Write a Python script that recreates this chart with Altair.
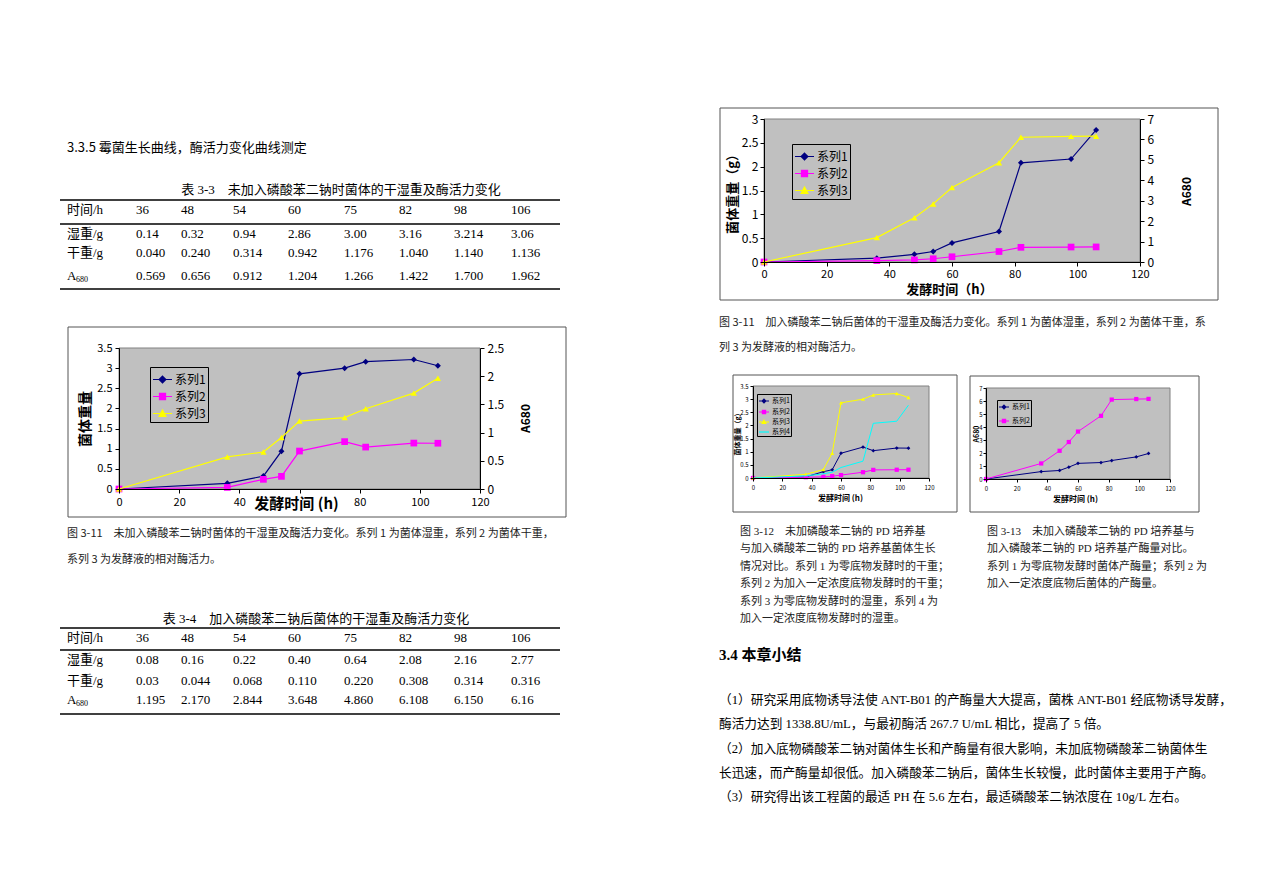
import altair as alt
import pandas as pd

# ---------------- data (read from the page) ----------------
HOURS = [0, 36, 48, 54, 60, 75, 82, 98, 106]
TIME_LABELS = ["36", "48", "54", "60", "75", "82", "98", "106"]

WET_NO = [0, 0.14, 0.32, 0.94, 2.86, 3.00, 3.16, 3.214, 3.06]
DRY_NO = [0, 0.040, 0.240, 0.314, 0.942, 1.176, 1.040, 1.140, 1.136]
ACT_NO = [0, 0.569, 0.656, 0.912, 1.204, 1.266, 1.422, 1.700, 1.962]
WET_ADD = [0, 0.08, 0.16, 0.22, 0.40, 0.64, 2.08, 2.16, 2.77]
DRY_ADD = [0, 0.03, 0.044, 0.068, 0.110, 0.220, 0.308, 0.314, 0.316]
ACT_ADD = [0, 1.195, 2.170, 2.844, 3.648, 4.860, 6.108, 6.150, 6.16]

T33_WET = ["0.14", "0.32", "0.94", "2.86", "3.00", "3.16", "3.214", "3.06"]
T33_DRY = ["0.040", "0.240", "0.314", "0.942", "1.176", "1.040", "1.140", "1.136"]
T33_ACT = ["0.569", "0.656", "0.912", "1.204", "1.266", "1.422", "1.700", "1.962"]
T34_WET = ["0.08", "0.16", "0.22", "0.40", "0.64", "2.08", "2.16", "2.77"]
T34_DRY = ["0.03", "0.044", "0.068", "0.110", "0.220", "0.308", "0.314", "0.316"]
T34_ACT = ["1.195", "2.170", "2.844", "3.648", "4.860", "6.108", "6.150", "6.16"]
ROW_LABELS = ["时间/h", "湿重/g", "干重/g", "A"]
SUB_LABEL = "680"

SERIES = ["系列1", "系列2", "系列3", "系列4"]
X_DOMAIN = [0, 120]
X_TICKS = [0, 20, 40, 60, 80, 100, 120]
Y_TICKS_35 = [0, 0.5, 1, 1.5, 2, 2.5, 3, 3.5]
Y_TICKS_30 = [0, 0.5, 1, 1.5, 2, 2.5, 3]
Y_TICKS_25 = [0, 0.5, 1, 1.5, 2, 2.5]
Y_TICKS_7 = [0, 1, 2, 3, 4, 5, 6, 7]

HEADING = "3.3.5 霉菌生长曲线，酶活力变化曲线测定"
TITLE_33 = "表 3-3　未加入磷酸苯二钠时菌体的干湿重及酶活力变化"
TITLE_34 = "表 3-4　加入磷酸苯二钠后菌体的干湿重及酶活力变化"
CAP_1 = ["图 3-11　未加入磷酸苯二钠时菌体的干湿重及酶活力变化。系列 1 为菌体湿重，系列 2 为菌体干重，",
         "系列 3 为发酵液的相对酶活力。"]
CAP_2 = ["图 3-11　加入磷酸苯二钠后菌体的干湿重及酶活力变化。系列 1 为菌体湿重，系列 2 为菌体干重，系",
         "列 3 为发酵液的相对酶活力。"]
CAP_12 = ["\u00a0图 3-12　未加磷酸苯二钠的 PD 培养基",
          "与加入磷酸苯二钠的 PD 培养基菌体生长",
          "情况对比。系列 1 为零底物发酵时的干重；",
          "系列 2 为加入一定浓度底物发酵时的干重；",
          "系列 3 为零底物发酵时的湿重，系列 4 为",
          "加入一定浓度底物发酵时的湿重。"]
CAP_13 = ["\u00a0图 3-13　未加入磷酸苯二钠的 PD 培养基与",
          "加入磷酸苯二钠的 PD 培养基产酶量对比。",
          "\u00a0系列 1 为零底物发酵时菌体产酶量；系列 2 为",
          "加入一定浓度底物后菌体的产酶量。"]
SEC_TITLE = "3.4 本章小结"
PARA = ["（1）研究采用底物诱导法使 ANT-B01 的产酶量大大提高，菌株 ANT-B01 经底物诱导发酵，",
        "酶活力达到 1338.8U/mL，与最初酶活 267.7 U/mL 相比，提高了 5 倍。",
        "（2）加入底物磷酸苯二钠对菌体生长和产酶量有很大影响，未加底物磷酸苯二钠菌体生",
        "长迅速，而产酶量却很低。加入磷酸苯二钠后，菌体生长较慢，此时菌体主要用于产酶。",
        "（3）研究得出该工程菌的最适 PH 在 5.6 左右，最适磷酸苯二钠浓度在 10g/L 左右。"]

# ---------------- styles / layout ----------------
W, H = 1257, 868
CJK = "Noto Sans CJK SC"
SERIF = "Liberation Serif, Noto Sans CJK SC"
NAVY, MAG, YEL, CYAN = "#000080", "#FF00FF", "#FFFF00", "#00FFFF"
# legend glyphs: a line with a (stroke-filled) marker at its centre
P_DIAMOND = ("M-1,0L1,0M0,-0.36L0.36,0L0,0.36L-0.36,0ZM0,-0.24L0.24,0L0,0.24L-0.24,0Z"
             "M0,-0.12L0.12,0L0,0.12L-0.12,0ZM0,-0.36L0,0.36")
P_SQUARE = ("M-1,0L1,0M-0.32,-0.32L0.32,-0.32L0.32,0.32L-0.32,0.32Z"
            "M-0.2,-0.2L0.2,-0.2L0.2,0.2L-0.2,0.2ZM-0.08,-0.08L0.08,-0.08L0.08,0.08L-0.08,0.08Z"
            "M0,-0.32L0,0.32")
P_TRI = ("M-1,0L1,0M0,-0.36L0.36,0.3L-0.36,0.3ZM0,-0.2L0.2,0.18L-0.2,0.18Z"
         "M0,-0.36L0,0.3")
P_LINE = "M-1,0L1,0"
ONE = pd.DataFrame({"k": [0]})


def axis(**kw):
    base = dict(grid=False, domainColor="black", tickColor="black", labelColor="black",
                titleColor="black", labelFont=CJK, titleFont=CJK, titleFontWeight="bold",
                labelFlush=False, labelOverlap=False, titleAlign="center",
                titleBaseline="middle", zindex=1, domainWidth=1, tickWidth=1)
    base.update(kw)
    return alt.Axis(**base)


def series_layers(vals, color, shape, size, lw, xs, xa, ys, ya):
    df = pd.DataFrame({"h": HOURS, "v": vals})
    enc = dict(x=alt.X("h:Q", scale=xs, axis=xa), y=alt.Y("v:Q", scale=ys, axis=ya))
    out = [alt.Chart(df).mark_line(color=color, strokeWidth=lw).encode(**enc)]
    if shape:
        out.append(alt.Chart(df).mark_point(shape=shape, filled=True, color=color,
                                            size=size, opacity=1).encode(**enc))
    return out


def legend_layer(field, names, colors, paths, lx, ly, fs, ssize, rowpad, pad):
    leg = alt.Legend(title=None, orient="none", legendX=lx, legendY=ly,
                     fillColor="#C0C0C0", strokeColor="#000000", padding=pad,
                     labelFont=CJK, labelFontSize=fs, labelColor="black",
                     symbolSize=ssize, symbolStrokeWidth=1.2, rowPadding=rowpad,
                     labelOffset=2)
    df = pd.DataFrame({field: names})
    return alt.Chart(df).mark_point(opacity=0, filled=False, strokeWidth=1.2).encode(
        shape=alt.Shape(f"{field}:N", scale=alt.Scale(domain=names, range=paths), legend=leg),
        fill=alt.Fill(f"{field}:N", scale=alt.Scale(domain=names, range=colors), legend=leg),
        stroke=alt.Stroke(f"{field}:N", scale=alt.Scale(domain=names, range=colors), legend=leg),
    )


def build_plot(xr, yr, box, ldom, lticks, lax, xax, left, leg, rdom=None, rticks=None,
               rax=None, right=()):
    xs = alt.Scale(domain=X_DOMAIN, range=[xr[0], xr[1]], nice=False, zero=False)
    ys = alt.Scale(domain=ldom, range=[yr[1], yr[0]], nice=False, zero=False)
    xa = axis(orient="bottom", offset=yr[1] - H, values=X_TICKS, **xax)
    ya = axis(orient="left", offset=-xr[0], values=lticks, format=".2~f", titleAngle=270, **lax)
    frame = alt.Chart(ONE).mark_rect(fillOpacity=0, stroke="#555555", strokeWidth=1).encode(
        x=alt.value(box[0]), x2=alt.value(box[1]), y=alt.value(box[2]), y2=alt.value(box[3]))
    bg = alt.Chart(ONE).mark_rect(color="#C0C0C0", stroke="#808080", strokeWidth=1).encode(
        x=alt.X(datum=X_DOMAIN[0], scale=xs, axis=xa), x2=alt.X2(datum=X_DOMAIN[1]),
        y=alt.Y(datum=ldom[0], scale=ys, axis=ya), y2=alt.Y2(datum=ldom[1]))
    layers = [bg]
    for s in left:
        layers += series_layers(*s, xs, xa, ys, ya)
    layers.append(leg)
    left_group = alt.layer(*layers)
    if right:
        rs = alt.Scale(domain=rdom, range=[yr[1], yr[0]], nice=False, zero=False)
        ra = axis(orient="right", offset=xr[1] - W, values=rticks, format=".2~f",
                  titleAngle=270, **rax)
        rl = []
        for s in right:
            rl += series_layers(*s, xs, xa, rs, ra)
        plot = alt.layer(left_group, alt.layer(*rl)).resolve_scale(y="independent")
    else:
        plot = left_group
    return [frame, plot]


def text_lines(lines, x0, y0, y1, size, font, weight="normal", color="black"):
    n = len(lines)
    df = pd.DataFrame({"i": list(range(n)), "t": lines})
    if n == 1:
        y = alt.value(y0)
    else:
        y = alt.Y("i:Q", scale=alt.Scale(domain=[0, n - 1], range=[y0, y1], nice=False,
                                         zero=False), axis=None)
    return alt.Chart(df).mark_text(align="left", baseline="middle", fontSize=size, font=font,
                                   fontWeight=weight, color=color).encode(
        x=alt.value(x0), y=y, text="t:N")


COL_X = [59, 128, 173, 225, 280, 336, 391, 446, 503]


def table(title, tx, ty, wet, dry, act, row_y, rule_y):
    rows = [[ROW_LABELS[0]] + TIME_LABELS, [ROW_LABELS[1]] + wet,
            [ROW_LABELS[2]] + dry, [ROW_LABELS[3]] + act]
    cells = pd.DataFrame([{"r": r, "c": c, "t": t}
                          for r, row in enumerate(rows) for c, t in enumerate(row)])
    xs = alt.Scale(domain=list(range(9)), range=COL_X, nice=False, zero=False)
    ys = alt.Scale(domain=[0, 1, 2, 3], range=row_y, nice=False, zero=False)
    enc = dict(x=alt.X("c:Q", scale=xs, axis=None), y=alt.Y("r:Q", scale=ys, axis=None))
    body = alt.Chart(cells).mark_text(align="left", baseline="middle", fontSize=13,
                                      font=SERIF, color="black").encode(text="t:N", **enc)
    sub = alt.Chart(pd.DataFrame({"r": [3], "c": [0], "t": [SUB_LABEL]})).mark_text(
        align="left", baseline="middle", fontSize=8, font=SERIF, color="black", dx=9, dy=4
    ).encode(text="t:N", **enc)
    ttl = alt.Chart(ONE).mark_text(align="center", baseline="middle", fontSize=13, font=SERIF,
                                   color="black", text=title).encode(
        x=alt.value(tx), y=alt.value(ty))
    rules = [alt.Chart(ONE).mark_rule(color="black", strokeWidth=1.3).encode(
        x=alt.value(52), x2=alt.value(552), y=alt.value(v)) for v in rule_y]
    return alt.layer(body, sub, ttl, *rules)


# ---------------- charts ----------------
c1 = build_plot(
    xr=(111, 472), yr=(340, 481), box=(60, 558, 319, 509),
    ldom=[0, 3.5], lticks=Y_TICKS_35,
    lax=dict(title="菌体重量", titleX=-34, titleY=410.5, titleFontSize=14, labelFontSize=11,
             tickSize=4, labelPadding=3),
    xax=dict(title="发酵时间 (h)", titleX=288, titleY=14, titleFontSize=15, labelFontSize=11,
             tickSize=4, labelPadding=3, labelExpr="datum.value == 60 ? '' : datum.label"),
    left=[(WET_NO, NAVY, "diamond", 36, 1.2), (DRY_NO, MAG, "square", 45, 1.2)],
    leg=legend_layer("s1", SERIES[:3], [NAVY, MAG, YEL], [P_DIAMOND, P_SQUARE, P_TRI],
                     142, 359, 12, 361, -6, 2),
    rdom=[0, 2.5], rticks=Y_TICKS_25,
    rax=dict(title="A680", titleX=45, titleY=410, titleFontSize=12, labelFontSize=12,
             tickSize=4, labelPadding=3),
    right=[(ACT_NO, YEL, "triangle-up", 40, 1.2)],
)

c2 = build_plot(
    xr=(756, 1132), yr=(111, 254), box=(712, 1210, 100, 292),
    ldom=[0, 3], lticks=Y_TICKS_30,
    lax=dict(title="菌体重量（g）", titleX=-32, titleY=182.5, titleFontSize=13,
             labelFontSize=12, tickSize=4, labelPadding=2),
    xax=dict(title="发酵时间（h）", titleX=941, titleY=27, titleFontSize=13, labelFontSize=11,
             tickSize=4, labelPadding=2),
    left=[(WET_ADD, NAVY, "diamond", 36, 1.2), (DRY_ADD, MAG, "square", 45, 1.2)],
    leg=legend_layer("s2", SERIES[:3], [NAVY, MAG, YEL], [P_DIAMOND, P_SQUARE, P_TRI],
                     784, 136, 12, 361, -6, 2),
    rdom=[0, 7], rticks=Y_TICKS_7,
    rax=dict(title="A680", titleX=46, titleY=183, titleFontSize=12, labelFontSize=12,
             tickSize=4, labelPadding=3),
    right=[(ACT_ADD, YEL, "triangle-up", 40, 1.2)],
)

c3 = build_plot(
    xr=(745, 921), yr=(378, 470), box=(725, 949, 367, 504),
    ldom=[0, 3.5], lticks=Y_TICKS_35,
    lax=dict(title="菌体重量（g）", titleX=-16, titleY=424, titleFontSize=7, labelFontSize=6,
             tickSize=3, labelPadding=2),
    xax=dict(title="发酵时间 (h)", titleX=832, titleY=20, titleFontSize=8, labelFontSize=6,
             tickSize=3, labelPadding=3),
    left=[(DRY_NO, NAVY, "diamond", 14, 1), (DRY_ADD, MAG, "square", 18, 1),
          (WET_NO, YEL, "triangle-up", 16, 1), (WET_ADD, CYAN, None, 0, 1)],
    leg=legend_layer("s3", SERIES, [NAVY, MAG, YEL, CYAN], [P_DIAMOND, P_SQUARE, P_TRI, P_LINE],
                     749, 386, 7, 100, 0, 1),
)

c4 = build_plot(
    xr=(978, 1162), yr=(380, 471), box=(962, 1191, 368, 504),
    ldom=[0, 7], lticks=Y_TICKS_7,
    lax=dict(title="A680", titleX=-10, titleY=425.5, titleFontSize=7, labelFontSize=6,
             tickSize=3, labelPadding=1),
    xax=dict(title="发酵时间 (h)", titleX=1067, titleY=20, titleFontSize=8, labelFontSize=6,
             tickSize=3, labelPadding=3),
    left=[(ACT_NO, NAVY, "diamond", 14, 1), (ACT_ADD, MAG, "square", 18, 1)],
    leg=legend_layer("s4", SERIES[:2], [NAVY, MAG], [P_DIAMOND, P_SQUARE],
                     989, 392, 7, 100, 3, 1),
)

# ---------------- text ----------------
texts = [
    text_lines([HEADING], 59, 140, 140, 13, CJK),
    table(TITLE_33, 333, 182, T33_WET, T33_DRY, T33_ACT, [202, 226, 245, 268], [192, 216, 281]),
    text_lines(CAP_1, 59, 526, 552, 11, CJK, color="#222222"),
    table(TITLE_34, 308, 611, T34_WET, T34_DRY, T34_ACT, [630, 652, 673, 692], [620, 642, 706]),
    text_lines(CAP_2, 711, 315, 340, 11, CJK, color="#222222"),
    text_lines(CAP_12, 732, 524, 611, 11, SERIF, color="#222222"),
    text_lines(CAP_13, 979, 524, 576.2, 11, SERIF, color="#222222"),
    text_lines([SEC_TITLE], 711, 647, 647, 15, SERIF, weight="bold"),
    text_lines(PARA, 711, 692, 789, 12.7, SERIF),
]

page = alt.layer(*(c1 + c2 + c3 + c4 + texts)).resolve_scale(
    x="independent", y="independent", shape="independent", fill="independent",
    stroke="independent"
).properties(width=W, height=H, padding=0).configure_view(stroke=None)

page.save("out.html", embed_options={"renderer": "svg", "actions": False})
